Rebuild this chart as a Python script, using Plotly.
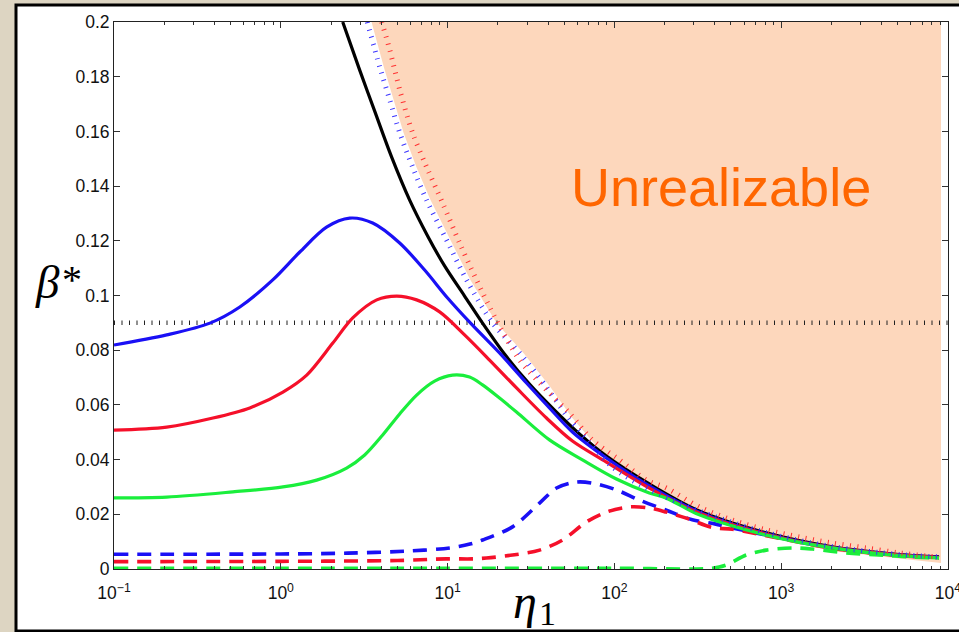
import plotly.graph_objects as go

# ---- data -------------------------------------------------------------
# upper bound curve (black)
eta_black = [2.351, 2.972, 3.655, 4.620, 5.923, 7.591, 9.594, 12.64, 16.20, 21.94, 30.97,
             43.73, 61.72, 89.55, 162.0, 322.9, 813.2, 2020, 5089, 8834]
beta_black = [0.2000, 0.1824, 0.1674, 0.1506, 0.1349, 0.1218, 0.1108, 0.0998, 0.0899, 0.0786,
              0.0676, 0.0581, 0.0494, 0.0413, 0.0311, 0.0212, 0.0132, 0.0081, 0.0053, 0.0044]

# solid curves
eta_blue = [0.1, 0.207, 0.376, 0.568, 0.895, 1.30, 1.88, 2.59, 3.556, 5.160, 7.285, 10.0,
            13.73, 20.48, 29.72, 40.81, 56.04, 89.55, 162.0, 322.9, 813.2, 2020, 5089, 8834]
beta_blue = [0.0819, 0.0856, 0.0899, 0.0958, 0.1057, 0.1159, 0.1250, 0.1283, 0.1265, 0.1192,
             0.1093, 0.0991, 0.0899, 0.0790, 0.0680, 0.0589, 0.0501, 0.0406, 0.0304, 0.0208,
             0.0129, 0.0079, 0.0052, 0.0043]

eta_red = [0.1, 0.207, 0.392, 0.652, 1.03, 1.43, 2.05, 2.70, 3.76, 4.96, 6.52, 8.96,
           12.64, 17.85, 25.89, 39.16, 56.04, 89.55, 162.0, 322.9, 813.2, 2020, 5089, 8834]
beta_red = [0.0508, 0.0519, 0.0552, 0.0589, 0.0647, 0.0709, 0.0826, 0.0918, 0.0984, 0.0998,
            0.0984, 0.0940, 0.0856, 0.0764, 0.0662, 0.0552, 0.0468, 0.0391, 0.0296, 0.0204,
            0.0127, 0.0078, 0.0051, 0.0042]

eta_green = [0.1, 0.207, 0.516, 1.03, 1.64, 2.48, 3.184, 4.082, 5.160, 6.523, 8.359, 10.71,
             13.54, 16.20, 20.48, 25.89, 40.81, 64.33, 102.8, 162.0, 204.8, 322.9, 813.2,
             2020, 5089, 8834]
beta_green = [0.0260, 0.0263, 0.0282, 0.0300, 0.0325, 0.0369, 0.0417, 0.0490, 0.0567, 0.0636,
              0.0687, 0.0709, 0.0702, 0.0673, 0.0625, 0.0574, 0.0472, 0.0399, 0.0329, 0.0278,
              0.0259, 0.0198, 0.0124, 0.0077, 0.0049, 0.0041]

# dashed curves
eta_blue_d = [0.1, 1.0, 2.5, 6.0, 10.3, 13.6, 16.2, 24.5, 35.6, 45, 59.2, 73.8, 103, 141,
              205, 293, 400, 509, 813.2, 2020, 5089, 8834]
beta_blue_d = [0.0054, 0.0055, 0.0058, 0.0066, 0.0077, 0.0091, 0.0106, 0.0154, 0.0241, 0.0296,
               0.0318, 0.0314, 0.0289, 0.0252, 0.0215, 0.0180, 0.0165, 0.0150, 0.0124, 0.0077,
               0.0050, 0.0042]

eta_red_d = [0.1, 1.0, 5.0, 9.8, 14.1, 17.1, 24.5, 35.6, 48.9, 67.9, 89.5, 123, 162, 205,
             270, 386, 509, 813.2, 2020, 5089, 8834]
beta_red_d = [0.0027, 0.0028, 0.0031, 0.0037, 0.0037, 0.0040, 0.0051, 0.0069, 0.0106, 0.0172,
              0.0208, 0.0227, 0.0223, 0.0208, 0.0186, 0.0152, 0.0145, 0.0122, 0.0076, 0.0049,
              0.0042]

eta_green_d = [0.1, 1.0, 10, 100, 386, 469, 617, 813, 1164, 1535, 2449, 3864, 6085, 8834]
beta_green_d = [0.0003, 0.0003, 0.0003, 0.0003, 0.0003, 0.0015, 0.0051, 0.0069, 0.0077, 0.0073,
                0.0059, 0.0051, 0.0044, 0.0040]

# dotted limits
eta_blue_dot = [3.30, 3.92, 4.50, 5.17, 6.17, 7.48, 9.86, 13.0, 18.6, 27.0, 39.2, 52.4, 68.9,
                97.3, 151, 323, 813, 2020, 5089, 8834]
beta_blue_dot = [0.2, 0.1835, 0.1715, 0.1594, 0.147, 0.1349, 0.1203, 0.1057, 0.090, 0.079,
                 0.0665, 0.0556, 0.0472, 0.0373, 0.030, 0.0212, 0.0133, 0.0082, 0.0053, 0.0044]

eta_red_dot = [4.03, 4.50, 5.17, 6.17, 7.48, 9.33, 11.8, 14.9, 19.6, 27.0, 39.2, 53.8, 73.8,
               107, 156, 205, 323, 509, 813, 1282, 2019, 3226, 5090, 8470]
beta_red_dot = [0.2, 0.1898, 0.1751, 0.1594, 0.147, 0.1338, 0.1192, 0.1057, 0.091, 0.0764,
                0.0654, 0.057, 0.0472, 0.0399, 0.0325, 0.0296, 0.0227, 0.0179, 0.0143, 0.0117,
                0.0095, 0.0077, 0.0059, 0.0044]

# edge of the unrealizable region
eta_edge = [3.50, 4.15, 4.75, 5.45, 6.50, 7.90, 10.4, 13.7, 19.6, 28.5, 41.3, 55.3, 72.7,
            102, 158, 330, 813, 2019, 5090, 9080]
beta_edge = [0.2, 0.1835, 0.1715, 0.1594, 0.147, 0.1349, 0.1203, 0.1057, 0.090, 0.079,
             0.0665, 0.0556, 0.0472, 0.0373, 0.030, 0.0200, 0.0118, 0.0066, 0.0038, 0.0022]
beta_top = 0.2

beta_ref = 0.09
eta_ref = [0.1, 10000]

x_tickvals = [0.1, 1, 10, 100, 1000, 10000]
x_ticktext = ["10<sup>−1</sup>", "10<sup>0</sup>", "10<sup>1</sup>", "10<sup>2</sup>",
              "10<sup>3</sup>", "10<sup>4</sup>"]
y_tickvals = [0, 0.02, 0.04, 0.06, 0.08, 0.1, 0.12, 0.14, 0.16, 0.18, 0.2]
y_ticktext = ["0", "0.02", "0.04", "0.06", "0.08", "0.1", "0.12", "0.14", "0.16", "0.18", "0.2"]

# ---- figure -----------------------------------------------------------
BLUE = "#1a10f5"
RED = "#f5102a"
GREEN = "#1aee3c"
W_SOLID = 3.2
W_DASH = 3.6
DASH = "14px,9px"
DOT = "1px,6.5px"

fig = go.Figure()

# shaded region
fig.add_trace(go.Scatter(
    x=eta_edge + [eta_edge[-1], eta_edge[0]],
    y=beta_edge + [beta_top, beta_top],
    fill="toself", fillcolor="rgb(253,215,188)", line=dict(width=0),
    mode="lines", hoverinfo="skip", showlegend=False))

# reference level
fig.add_trace(go.Scatter(x=eta_ref, y=[beta_ref, beta_ref], mode="lines",
                         line=dict(color="#222222", width=4.5, dash=DOT),
                         showlegend=False))

def curve(x, y, color, width=W_SOLID, dash="solid"):
    fig.add_trace(go.Scatter(x=x, y=y, mode="lines",
                             line=dict(color=color, width=width, dash=dash,
                                       shape="spline", smoothing=0.9),
                             showlegend=False))

curve(eta_blue_d, beta_blue_d, BLUE, width=W_DASH, dash=DASH)
curve(eta_red_d, beta_red_d, RED, width=W_DASH, dash=DASH)
curve(eta_green_d, beta_green_d, GREEN, width=W_DASH, dash=DASH)
curve(eta_black, beta_black, "#000000")
curve(eta_blue, beta_blue, BLUE)
curve(eta_red, beta_red, RED)
curve(eta_green, beta_green, GREEN)
curve(eta_blue_dot, beta_blue_dot, "#3a33ff", width=5, dash=DOT)
curve(eta_red_dot, beta_red_dot, "#ff3030", width=5, dash=DOT)

SANS = "Liberation Sans, Arial, sans-serif"
SERIF = "Liberation Serif, DejaVu Serif, serif"
AX_FONT = dict(family=SANS, size=17.5, color="#111111")

fig.update_xaxes(
    type="log", range=[-1, 4.00002], tickvals=x_tickvals, ticktext=x_ticktext,
    ticks="inside", ticklen=6, tickcolor="#333333", tickwidth=1,
    showline=True, linecolor="#222222", linewidth=1, mirror="ticks",
    showgrid=False, zeroline=False, tickfont=AX_FONT, ticklabelstandoff=8,
    ticklabeloverflow="allow", automargin=False,
    minor=dict(ticks="inside", ticklen=3, tickcolor="#333333", dtick="D1", showgrid=False),
)
fig.update_yaxes(
    range=[0, 0.2], tickvals=y_tickvals, ticktext=y_ticktext,
    ticks="inside", ticklen=6, tickcolor="#333333", tickwidth=1,
    showline=True, linecolor="#222222", linewidth=1, mirror="ticks",
    showgrid=False, zeroline=False, tickfont=AX_FONT, ticklabeloverflow="allow",
    automargin=False,
)

L, R, T, B = 114, 11, 22, 63
PW, PH = 959 - L - R, 632 - T - B

def px(xp, yp):
    return (xp - L) / PW, (632 - B - yp) / PH

# white panel with black frame
x0, y1 = px(16, 5)
x1, y0 = px(975, 631)
fig.add_shape(type="rect", xref="paper", yref="paper", x0=x0, x1=x1, y0=y0, y1=y1,
              fillcolor="white", line=dict(color="black", width=3), layer="below")

def label(xp, yp, text, size, family, color="black"):
    ax_, ay_ = px(xp, yp)
    fig.add_annotation(x=ax_, y=ay_, xref="paper", yref="paper", text=text,
                       showarrow=False, xanchor="center", yanchor="middle",
                       font=dict(family=family, size=size, color=color))

label(721, 187, "Unrealizable", 54, SANS, "#ff6600")
label(47, 282, "<i>β</i>", 47, SERIF)
label(72, 279, "*", 40, SERIF)
label(525, 601, "<i>η</i>", 48, SERIF)
label(547, 613, "1", 34, SERIF)

fig.update_layout(
    width=959, height=632,
    margin=dict(l=L, r=R, t=T, b=B, pad=0, autoexpand=False),
    paper_bgcolor="#ddd5c2", plot_bgcolor="rgba(0,0,0,0)",
    font=dict(family=SANS, size=17.5, color="#111111"),
    showlegend=False,
)

fig.write_html("out.html")
